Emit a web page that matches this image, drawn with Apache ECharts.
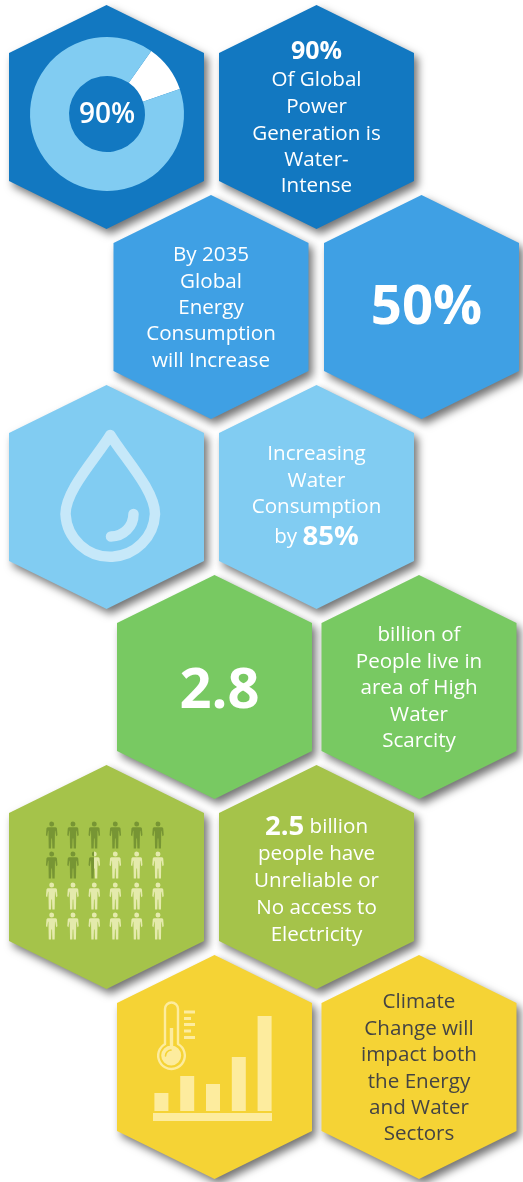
<!DOCTYPE html>
<html><head><meta charset="utf-8">
<style>html,body{margin:0;padding:0;background:#fff}#c{width:523px;height:1182px}</style>
<script src="https://cdn.jsdelivr.net/npm/echarts@6/dist/echarts.min.js"></script>
</head><body><div id="c"></div>
<script>
// ---- data ----
const donutValues = [10, 90];
const donutLabel = '90%';
const barValues = [18, 35, 27, 54, 95];
const barCategories = ['a', 'b', 'c', 'd', 'e'];
const peopleFilled = [
  1, 1, 1, 1, 1, 1,
  1, 1, 0.5, 0, 0, 0,
  0, 0, 0, 0, 0, 0,
  0, 0, 0, 0, 0, 0
];
const hexColors = ['#1278C1','#1278C1','#3FA0E4','#3FA0E4','#81CCF2','#81CCF2','#78C962','#78C962','#A5C34A','#A5C34A','#F5D335','#F5D335'];
const cellTexts = [
  [],
  ['{b|90%}', 'Of Global', 'Power', 'Generation is', 'Water-', 'Intense'],
  ['By 2035', 'Global', 'Energy', 'Consumption', 'will Increase'],
  ['{h|50%}'],
  [],
  ['Increasing', 'Water', 'Consumption', 'by {c|85%}'],
  ['{g|2.8}'],
  ['billion of', 'People live in', 'area of High', 'Water', 'Scarcity'],
  [],
  ['{c|2.5} billion', 'people have', 'Unreliable or', 'No access to', 'Electricity'],
  [],
  ['Climate', 'Change will', 'impact both', 'the Energy', 'and Water', 'Sectors']
];
const textColors = ['#fff','#fff','#fff','#fff','#fff','#fff','#fff','#fff','#fff','#fff','#fff','#444'];

// ---- layout ----
const cx = [106.5,316.5,211,421.5,106.5,316.5,214.5,419,106.5,316.5,214.5,419];
const cy = [117,117,307,307,497,497,687,687,877,877,1067,1067];
const textCx = [106.5,316.5,211,426.5,106.5,316.5,219.5,419,106.5,316.5,214.5,419];
const textLineY = [
  [],[52,80,107,134,160,186],[255,282,308,334,361],[308],[],
  [454,481,507,537],[692],[635,662,688,715,741],[],
  [827,854,881,908,935],[],[1002,1029,1055,1082,1108,1134]
];
const HW = 97.5, HH = 112, SH = 64;
const FONT = '"Open Sans", sans-serif';
const peopleCols = [51.7,73,94.3,115.3,136.7,158];
const peopleRows = [835,865,896,926];
const PERSON = 'path://M17,1A7.5,7.5 0 1 1 16.99,1ZM6,18L28,18Q32,18 33,22L34.5,42L30.5,45L28,29L27,29L26,82L19,82L18,52L16,52L15,82L8,82L7,29L6,29L3.5,45L-0.5,42L1,22Q2,18 6,18Z';
const DARK='#6C8A2E', LIGHT='#F4F4C4', ICE='#C6E8F9', BUT='#FDEC9E', YEL='#F5D335';

const iconPaths = [
  {d:'M110.3,435C97,457 65.5,490 65.5,514A44.8,44.8 0 0 0 155,514C155,490 123.5,457 110.3,435Z',s:ICE,w:10.5},
  {d:'M133.5,514A22.5,22.5 0 0 1 111,536.5',s:ICE,w:10.5},
  {d:'M165,1044L165,1009A6.5,6.5 0 0 1 178,1009L178,1044A13.3,13.3 0 1 1 165,1044Z',s:BUT,w:2.4},
  {d:'M161.2,1055.5A10,10 0 1 1 181.2,1055.5A10,10 0 1 1 161.2,1055.5ZM169.8,1028L173.2,1028L173.2,1048L169.8,1048Z',f:BUT},
  {d:'M165.5,1056A6.5,6.5 0 0 1 171,1050',s:YEL,w:1.6},
  {d:'M184,1010.5H195V1013.5H184ZM184,1017H191V1020H184ZM184,1023H195V1026H184ZM184,1029.5H191V1032.5H184ZM184,1036H195V1039H184ZM153,1113H272V1121H153Z',f:BUT}
];

const people = peopleFilled.map((f,i)=>{
  const color = f===1?DARK:f===0?LIGHT:new echarts.graphic.LinearGradient(0,0,1,0,[
    {offset:0,color:DARK},{offset:.5,color:DARK},{offset:.5,color:LIGHT},{offset:1,color:LIGHT}]);
  return {value:[peopleCols[i%6],peopleRows[Math.floor(i/6)]],itemStyle:{color}};
});

const chart = echarts.init(document.getElementById('c'),null,{renderer:'canvas',width:523,height:1182});
chart.setOption({
  animation:false,
  grid:[
    {left:0,top:0,right:0,bottom:0},
    {left:148.5,top:1016,width:129,height:95}
  ],
  xAxis:[
    {type:'value',min:0,max:523,show:false,gridIndex:0},
    {type:'category',data:barCategories,show:false,gridIndex:1}
  ],
  yAxis:[
    {type:'value',min:0,max:1182,inverse:true,show:false,gridIndex:0},
    {type:'value',min:0,max:95,show:false,gridIndex:1}
  ],
  series:[
    {type:'custom',z:1,xAxisIndex:0,yAxisIndex:0,clip:false,silent:true,
     data:cx.map((x,i)=>[x,cy[i]]),
     renderItem(p,api){
       const c=api.coord([api.value(0),api.value(1)]);
       const x=c[0],y=c[1];
       return {type:'polygon',shape:{points:[[x,y-HH],[x+HW,y-SH],[x+HW,y+SH],[x,y+HH],[x-HW,y+SH],[x-HW,y-SH]]},
         style:{fill:hexColors[p.dataIndex],shadowBlur:9,shadowOffsetX:4,shadowOffsetY:5,shadowColor:'rgba(0,0,0,.55)'}};
     }},
    {type:'pie',z:3,center:[107,114],radius:[38,77],startAngle:55,clockwise:true,silent:true,
     label:{show:false},labelLine:{show:false},
     data:[
       {value:donutValues[0],itemStyle:{color:'#fff'}},
       {value:donutValues[1],itemStyle:{color:'#81CCF2'}}
     ]},
    {type:'scatter',z:4,xAxisIndex:0,yAxisIndex:0,symbol:PERSON,symbolSize:[11.5,27],data:people,silent:true},
    {type:'bar',z:4,xAxisIndex:1,yAxisIndex:1,data:barValues,barWidth:14,itemStyle:{color:BUT},silent:true},
    {type:'custom',z:5,xAxisIndex:0,yAxisIndex:0,clip:false,silent:true,
     data:iconPaths.map((_,i)=>[i]),
     encode:{x:[],y:[]},
     renderItem(p,api){
       const ic=iconPaths[p.dataIndex];
       return {type:'path',shape:{pathData:ic.d},
         style:{fill:ic.f||'none',stroke:ic.s||'none',lineWidth:ic.w||0,lineJoin:'round',lineCap:'round'}};
     }},
    {type:'custom',z:6,xAxisIndex:0,yAxisIndex:0,clip:false,silent:true,
     data:textCx.map((x,i)=>[x,cy[i]]),
     renderItem(p,api){
       const i=p.dataIndex;
       const x=api.coord([api.value(0),0])[0];
       const lines=cellTexts[i];
       const col=textColors[i];
       return {type:'group',children:lines.map((t,k)=>({type:'text',
         style:{text:t,x:x,y:api.coord([0,textLineY[i][k]])[1],align:'center',verticalAlign:'middle',
           fill:col,font:'400 20.6px '+FONT,
           rich:{b:{font:'700 25px '+FONT,fill:col},c:{font:'700 27.5px '+FONT,fill:col},h:{font:'700 54.5px '+FONT,fill:col},g:{font:'700 56px '+FONT,fill:col}}}}))};
     }}
  ],
  graphic:[
    {type:'text',z:20,style:{text:donutLabel,x:107,y:115.5,align:'center',verticalAlign:'middle',fill:'#fff',font:'600 28px '+FONT}}
  ]
});
</script></body></html>
